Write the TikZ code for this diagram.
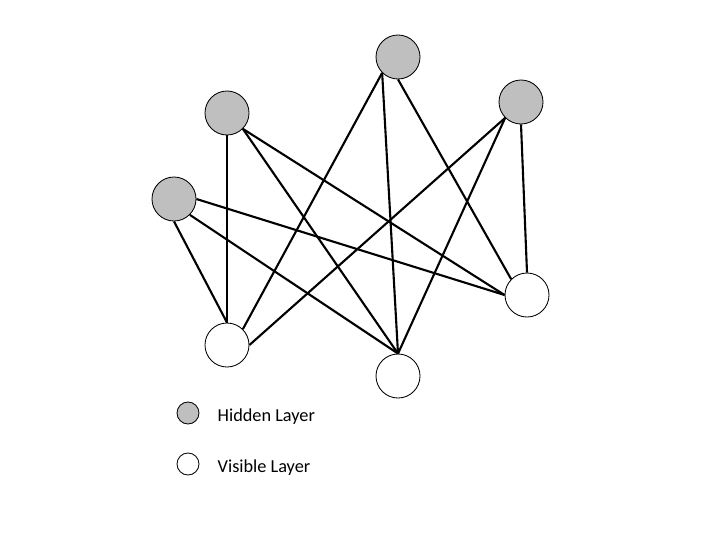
\documentclass[tikz,border=0pt]{standalone}
\usepackage{fontspec}
\setmainfont{Carlito}
\usetikzlibrary{positioning}

\begin{document}
\begin{tikzpicture}[x=0.025cm,y=-0.025cm,
        hidden/.style={circle,draw,line width=0.6pt,fill=black!25,minimum size=1.1cm,inner sep=0pt},
        visible/.style={circle,draw,line width=0.6pt,fill=white,minimum size=1.1cm,inner sep=0pt},
        link/.style={line width=1.5pt},
        legend/.style={inner sep=0pt,yshift=-0.1cm,font=\fontsize{13}{15}\selectfont}]
        \useasboundingbox (0,0) rectangle (720,540);
        % hidden layer
        \node[hidden] (H1) at (174,199) {};
        \node[hidden] (H2) at (227,113) {};
        \node[hidden] (H3) at (398,57) {};
        \node[hidden] (H4) at (521,102) {};
        % visible layer
        \node[visible] (V1) at (227,345) {};
        \node[visible] (V2) at (398,376) {};
        \node[visible] (V3) at (527,295) {};
        % connections
        \draw[link] (H1.south) -- (V1.north);
        \draw[link] (H1.south east) -- (V2.north);
        \draw[link] (H1.east) -- (V3.west);
        \draw[link] (H2.south) -- (V1.north);
        \draw[link] (H2.south east) -- (V2.north);
        \draw[link] (H2.south east) -- (V3.west);
        \draw[link] (H3.south west) -- (V1.north east);
        \draw[link] (H3.south west) -- (V2.north);
        \draw[link] (H3.south) -- (V3.north west);
        \draw[link] (H4.south west) -- (V1.east);
        \draw[link] (H4.south west) -- (V2.north);
        \draw[link] (H4.south) -- (V3.north);
        % legend
        \node[hidden,minimum size=0.55cm] (LH) at (188,413) {};
        \node[visible,minimum size=0.55cm] (LV) at (188,464) {};
        \node[legend,right=0.45cm of LH] (TH) {Hidden Layer};
        \node[legend,right=0.45cm of LV] (TV) {Visible Layer};
\end{tikzpicture}
\end{document}
